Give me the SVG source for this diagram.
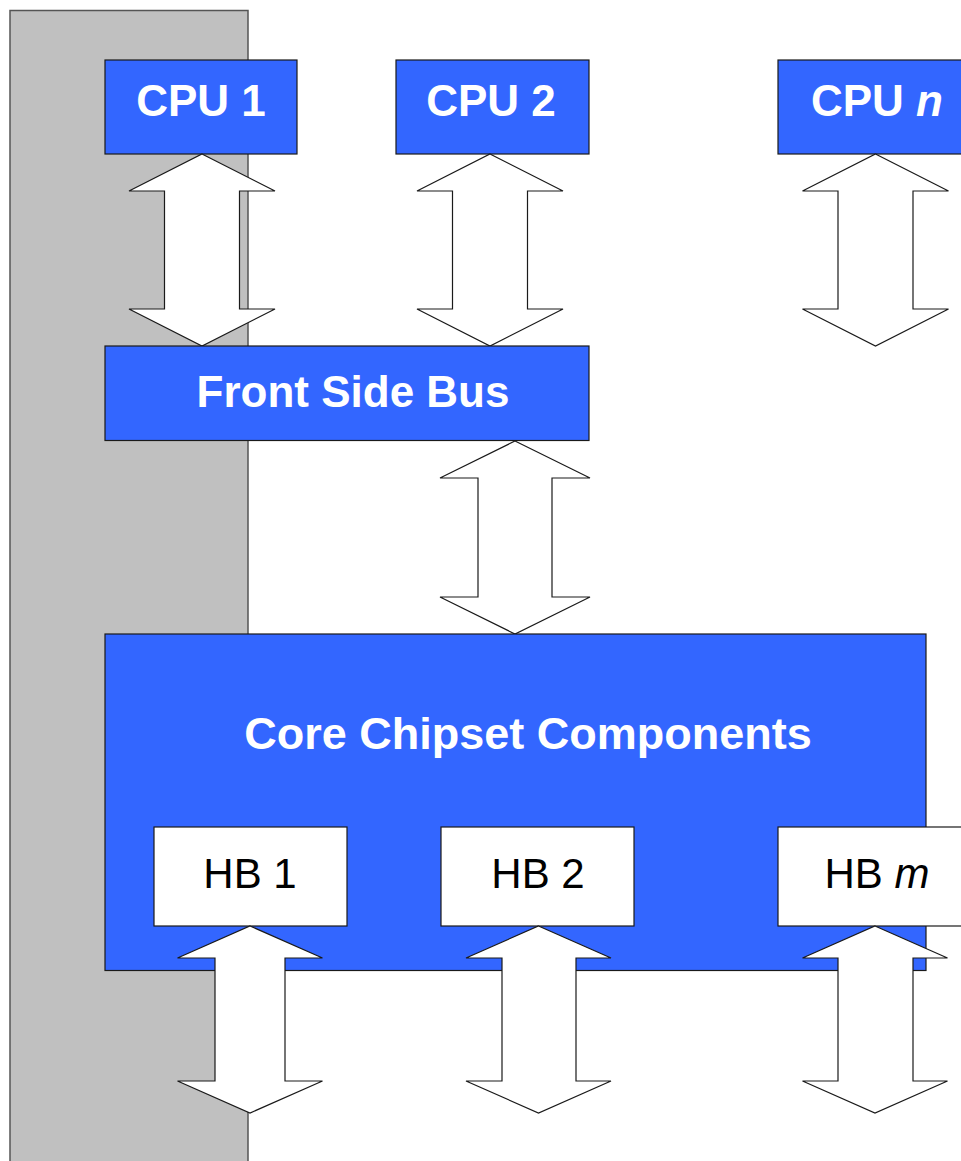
<svg xmlns="http://www.w3.org/2000/svg" width="961" height="1161" viewBox="0 0 961 1161">
  <style>
    .panel { fill: #C0C0C0; stroke: #555555; stroke-width: 1.5; }
    .blue { fill: #3366FF; stroke: #1a1a1a; stroke-width: 1.2; }
    .hb { fill: #FFFFFF; stroke: #1a1a1a; stroke-width: 1.2; }
    .arrow { fill: #FFFFFF; stroke: #1a1a1a; stroke-width: 1.2; stroke-linejoin: miter; }
    .wlbl { font-family: "Liberation Sans", Arial, sans-serif; font-weight: bold; font-size: 44px; fill: #FFFFFF; text-anchor: middle; }
    .blbl { font-family: "Liberation Sans", Arial, sans-serif; font-size: 42px; fill: #000000; text-anchor: middle; }
  </style>
  <rect width="961" height="1161" fill="#FFFFFF"/>
  <rect id="panel" class="panel" x="10" y="10.5" width="238" height="1160"/>

  <g id="cpu1"><rect class="blue" x="105" y="60" width="192" height="94"/><text class="wlbl" x="201" y="116">CPU 1</text></g>
  <g id="cpu2"><rect class="blue" x="396" y="60" width="193" height="94"/><text class="wlbl" x="491" y="116">CPU 2</text></g>
  <g id="cpun"><rect class="blue" x="778" y="60" width="200" height="94"/><text class="wlbl" x="877" y="116">CPU <tspan font-style="italic">n</tspan></text></g>

  <g id="connectors-top">
    <polygon class="arrow" points="202,154 275,191 239.5,191 239.5,309 275,309 202,346 129,309 164.5,309 164.5,191 129,191"/>
    <polygon class="arrow" points="490,154 563,191 527.5,191 527.5,309 563,309 490,346 417,309 452.5,309 452.5,191 417,191"/>
    <polygon class="arrow" points="875.5,154 948.5,191 913,191 913,309 948.5,309 875.5,346 802.5,309 838,309 838,191 802.5,191"/>
  </g>

  <g id="fsb"><rect class="blue" x="105" y="346" width="484" height="94.5"/><text class="wlbl" x="353" y="407">Front Side Bus</text></g>

  <g id="connector-fsb">
    <polygon class="arrow" points="515,441 590,478 552,478 552,597 590,597 515,634 440,597 478,597 478,478 440,478"/>
  </g>

  <g id="core"><rect class="blue" x="105" y="634" width="821" height="336.5"/><text class="wlbl" x="528" y="749" style="font-size:45px">Core Chipset Components</text></g>

  <g id="hb1"><rect class="hb" x="154" y="827" width="193" height="99"/><text class="blbl" x="250" y="888">HB 1</text></g>
  <g id="hb2"><rect class="hb" x="441" y="827" width="193" height="99"/><text class="blbl" x="538" y="888">HB 2</text></g>
  <g id="hbm"><rect class="hb" x="778" y="827" width="200" height="99"/><text class="blbl" x="877" y="888">HB <tspan font-style="italic">m</tspan></text></g>

  <g id="connectors-bottom">
    <polygon class="arrow" points="250,926 322.5,958 285,958 285,1081 322.5,1081 250,1113 177.5,1081 215,1081 215,958 177.5,958"/>
    <polygon class="arrow" points="538.5,926 611,958 576,958 576,1081 611,1081 538.5,1113 466,1081 502,1081 502,958 466,958"/>
    <polygon class="arrow" points="875,926 947.5,958 913,958 913,1081 947.5,1081 875,1113 802.5,1081 838,1081 838,958 802.5,958"/>
  </g>
</svg>
